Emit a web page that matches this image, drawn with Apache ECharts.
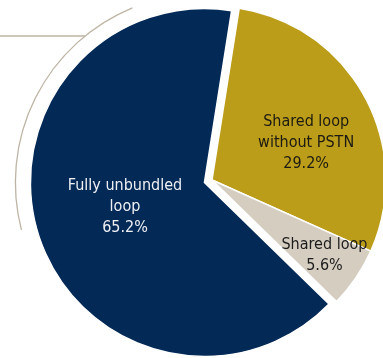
<!DOCTYPE html>
<html>
<head>
<meta charset="utf-8">
<script src="https://cdn.jsdelivr.net/npm/echarts@6/dist/echarts.min.js"></script>
<style>
  html, body { margin: 0; padding: 0; background: #ffffff; }
  #chart { width: 383px; height: 358px; }
</style>
</head>
<body>
<div id="chart"></div>
<script>
// Local loop unbundling: share of lines by type
const categories = ['Shared loop\nwithout PSTN', 'Shared loop', 'Fully unbundled\nloop'];
const shares = [29.2, 5.6, 65.2];
const colors = ['#bb9d1a', '#d4cdc0', '#032957'];
const labelColors = ['#1c1a12', '#1c1c1c', '#eef0f4'];
// Nudges for label placement within each slice
const labelShift = [[15, 6], [38, 25], [6, -4]];

const CX = 212, CY = 180, R = 174;
const START = 81;          // degrees, counter-clockwise from 3 o'clock
const EXPLODE = 8;         // offset of the highlighted slice

// Pick the narrowest installed sans face for the slice labels
function pickFont(candidates) {
  const ctx = document.createElement('canvas').getContext('2d');
  const sample = 'Fully unbundled loop 65.2%';
  ctx.font = '40px monospace';
  const base = ctx.measureText(sample).width;
  for (const f of candidates) {
    ctx.font = '40px "' + f + '", monospace';
    if (Math.abs(ctx.measureText(sample).width - base) > 0.5) return '"' + f + '"';
  }
  return 'sans-serif';
}
const FONT = pickFont(['Liberation Sans Narrow', 'DejaVu Sans Condensed', 'Roboto Condensed', 'Noto Sans', 'Liberation Sans']);
const FONT_SIZE = /Narrow/.test(FONT) ? 17 : 16;

// Geometry of the highlighted (last) slice, used for the accent arc around it
const total = shares.reduce((a, b) => a + b, 0);
const before = shares.slice(0, 2).reduce((a, b) => a + b, 0);
const midDeg = START - (before + shares[2] / 2) / total * 360;   // math angle
const midRad = midDeg * Math.PI / 180;
const hx = CX + Math.cos(midRad) * EXPLODE;
const hy = CY - Math.sin(midRad) * EXPLODE;
const ARC_R = 189;

const chart = echarts.init(document.getElementById('chart'), null, { renderer: 'canvas' });

chart.setOption({
  animation: false,
  backgroundColor: '#ffffff',
  graphic: [
    {
      type: 'arc',
      shape: {
        cx: hx, cy: hy, r: ARC_R,
        startAngle: 165.5 * Math.PI / 180,
        endAngle: 247.6 * Math.PI / 180,
        clockwise: true
      },
      style: { stroke: '#bdb4a4', lineWidth: 1.3, fill: null },
      silent: true
    },
    {
      type: 'line',
      shape: {
        x1: 0, y1: 36,
        x2: hx - Math.sqrt(ARC_R * ARC_R - (hy - 36) * (hy - 36)), y2: 36
      },
      style: { stroke: '#bdb4a4', lineWidth: 1.3 },
      silent: true
    }
  ],
  series: [{
    type: 'pie',
    center: [CX, CY],
    radius: [0, R],
    startAngle: START,
    clockwise: true,
    selectedMode: 'single',
    selectedOffset: EXPLODE,
    avoidLabelOverlap: false,
    itemStyle: { borderColor: '#ffffff', borderWidth: 1.5 },
    emphasis: { disabled: true },
    label: {
      show: true,
      position: 'inside',
      fontFamily: FONT,
      fontSize: FONT_SIZE,
      lineHeight: 21,
      align: 'center',
      formatter: p => p.name + '\n' + p.value.toFixed(1) + '%'
    },
    labelLine: { show: false },
    labelLayout: p => ({ dx: labelShift[p.dataIndex][0], dy: labelShift[p.dataIndex][1] }),
    data: categories.map((name, i) => ({
      name,
      value: shares[i],
      selected: i === 2,
      itemStyle: { color: colors[i] },
      label: { color: labelColors[i] }
    }))
  }]
});
</script>
</body>
</html>
